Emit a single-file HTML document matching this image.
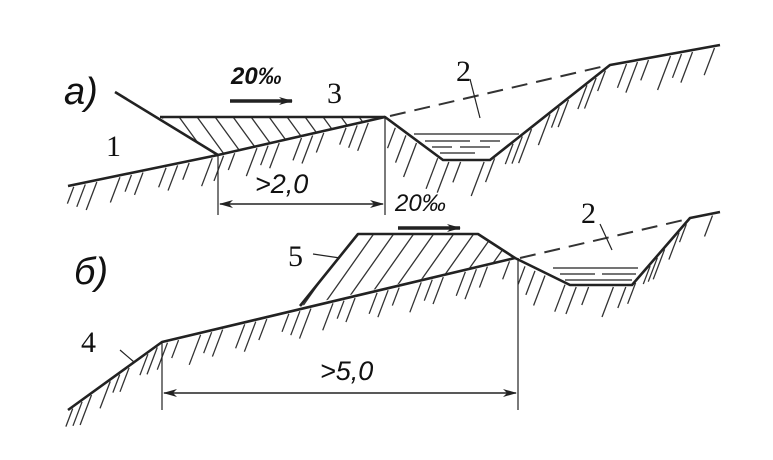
<!DOCTYPE html>
<html><head><meta charset="utf-8"><style>
html,body{margin:0;padding:0;background:#fff;width:773px;height:460px;overflow:hidden}
svg{display:block}
text{font-family:"Liberation Serif",serif;fill:#111}
.it{font-family:"Liberation Sans",sans-serif;font-style:italic}
</style></head><body>
<svg id="s" width="773" height="460" viewBox="0 0 773 460" xmlns="http://www.w3.org/2000/svg">
<defs>
<clipPath id="fa"><polygon points="160,117 385,117 218,155"/></clipPath>
<clipPath id="fb"><polygon points="358,234 478,234 515,258 300,306"/></clipPath>
<marker id="ar" markerWidth="14" markerHeight="8" refX="13" refY="4" orient="auto-start-reverse" markerUnits="userSpaceOnUse"><path d="M0,0 L14,4 L0,8 L4,4z" fill="#222"/></marker>
</defs>
<g id="hatch" stroke="#333" stroke-width="1.3" fill="none"></g>
<g stroke="#222" stroke-width="2.6" fill="none" stroke-linejoin="round">
<polyline points="68,186 218,155 385,117 443,160 490,160 610,65 720,45"/>
<polyline points="115,92 218,155"/>
<line x1="160" y1="117" x2="385" y2="117"/>
<polyline points="68,410 162,342 515,258 570,285 632,285 690,218 720,212"/>
<polyline points="300,306 358,234 478,234 515,258"/>
</g>
<g stroke="#333" stroke-width="2" stroke-dasharray="16,9" fill="none">
<line x1="390" y1="116" x2="605" y2="66"/>
<line x1="520" y1="258" x2="688" y2="219"/>
</g>
<g stroke="#222" stroke-width="1.2">
<line x1="414" y1="134" x2="519" y2="134"/>
<line x1="425" y1="141" x2="470" y2="141"/><line x1="480" y1="141" x2="500" y2="141"/>
<line x1="432" y1="147" x2="452" y2="147"/><line x1="460" y1="147" x2="490" y2="147"/>
<line x1="440" y1="153" x2="475" y2="153"/>
<line x1="553" y1="268" x2="638" y2="268"/>
<line x1="560" y1="274" x2="595" y2="274"/><line x1="602" y1="274" x2="636" y2="274"/>
<line x1="565" y1="280" x2="632" y2="280"/>
<line x1="218" y1="155" x2="218" y2="215"/>
<line x1="385" y1="117" x2="385" y2="215"/>
<line x1="162" y1="342" x2="162" y2="410"/>
<line x1="518" y1="258" x2="518" y2="410"/>
<line x1="220" y1="204" x2="383" y2="204" marker-start="url(#ar)" marker-end="url(#ar)" stroke-width="1.6"/>
<line x1="164" y1="393" x2="516" y2="393" marker-start="url(#ar)" marker-end="url(#ar)" stroke-width="1.6"/>
<line x1="470" y1="79" x2="480" y2="118"/>
<line x1="600" y1="224" x2="612" y2="250"/>
<line x1="313" y1="254" x2="340" y2="258"/>
<line x1="120" y1="350" x2="134" y2="362"/>
<line x1="230" y1="101" x2="292" y2="101" stroke-width="3.5" marker-end="url(#ar)"/>
<line x1="398" y1="228" x2="460" y2="228" stroke-width="3.5" marker-end="url(#ar)"/>
</g>
<text x="64" y="104" class="it" font-size="38">а)</text>
<text x="74" y="284" class="it" font-size="38">б)</text>
<text x="231" y="84" class="it" font-size="24" font-weight="bold">20‰</text>
<text x="395" y="211" class="it" font-size="24">20‰</text>
<text x="327" y="103" font-size="30">3</text>
<text x="106" y="156" font-size="30">1</text>
<text x="456" y="81" font-size="30">2</text>
<text x="581" y="223" font-size="30">2</text>
<text x="288" y="266" font-size="30">5</text>
<text x="81" y="352" font-size="30">4</text>
<text x="255" y="193" class="it" font-size="27">&gt;2,0</text>
<text x="320" y="380" class="it" font-size="27">&gt;5,0</text>
</svg>
<script>
(function(){
var g=document.getElementById('hatch'),NS='http://www.w3.org/2000/svg';
function L(x1,y1,x2,y2,cp){var l=document.createElementNS(NS,'line');l.setAttribute('x1',x1);l.setAttribute('y1',y1);l.setAttribute('x2',x2);l.setAttribute('y2',y2);if(cp)l.setAttribute('clip-path','url(#'+cp+')');g.appendChild(l);}
function ground(pts,step,len){
 for(var i=0;i<pts.length-1;i++){var a=pts[i],b=pts[i+1];var dx=b[0]-a[0],dy=b[1]-a[1],d=Math.hypot(dx,dy);var n=Math.floor(d/step);
  for(var k=0;k<n;k++){if((k+i)%4==3)continue;var t=(k+0.5)/n;var x=a[0]+dx*t,y=a[1]+dy*t;var ll=len*(0.6+0.4*((k*7+i*3)%5)/4);
   L(x,y+2,x-ll*0.38,y+2+ll);}}
}
ground([[68,186],[218,155],[385,117]],11,28);
ground([[390,122],[443,160],[490,160],[610,65],[720,45]],11,34);
ground([[68,410],[162,342],[515,258]],11,30);
ground([[520,262],[570,285],[632,285],[690,218],[720,212]],11,30);
for(var x=120;x<420;x+=18)L(x,110,x+40,165,'fa');
for(var x=280;x<560;x+=20)L(x,310,x+60,225,'fb');
})();
</script>
</body></html>
